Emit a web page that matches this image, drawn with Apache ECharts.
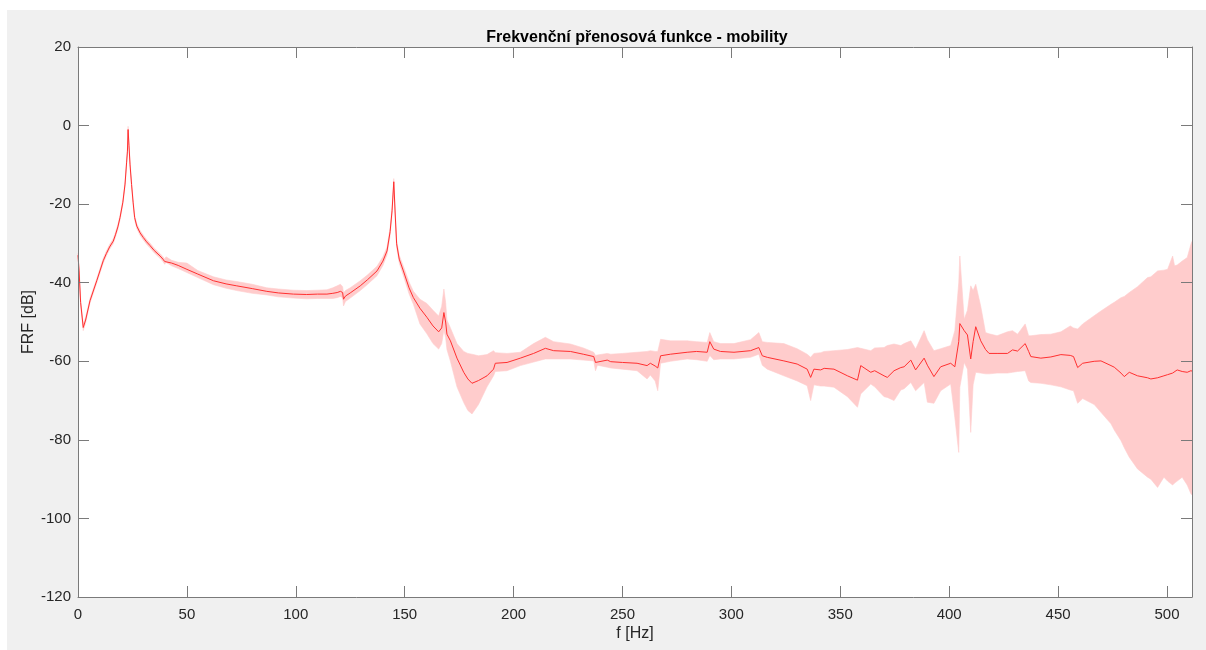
<!DOCTYPE html>
<html>
<head>
<meta charset="utf-8">
<script src="https://cdn.jsdelivr.net/npm/echarts@6/dist/echarts.min.js"></script>
<style>
  html, body { margin: 0; padding: 0; background: #ffffff; }
  #chart { width: 1206px; height: 650px; }
</style>
</head>
<body>
<div id="chart"></div>
<script>
// Frequency axis [Hz]
const freq = [
  0, 0.5, 1.2, 2.4, 3.5, 5.5, 8.6, 11.6, 13, 14.5, 16.2, 17.2, 18.3, 19.3, 20.6, 21.6, 22.3, 22.7, 23.0, 23.4, 23.9, 24.6,
  25.3, 26.0, 27.0, 28.5, 30, 31.5, 33, 35, 37.7, 39, 39.8, 40.4, 43, 46, 50, 55, 62.2, 68, 72.9, 80, 86.7, 92, 98.9,
  105, 110, 114.3, 117, 119, 120.5, 121.5, 121.9, 122.8, 125, 129.6, 133, 137.3, 140, 141.9, 143.3, 144.2, 145, 145.6, 146.3,
  147.5, 149.4, 152, 154, 157, 160.2, 163, 165.6, 167, 168, 168.8, 169.4, 171, 174, 177.1, 179, 180.9, 183.9, 187.8, 190.8,
  191.6, 197, 203.1, 209.2, 214.6, 218.4, 226.1, 232, 236.8, 237.6, 238.5, 243, 244.6, 250, 256.7, 261.3, 262.8, 265, 266.2, 267.5,
  272, 279.7, 284, 288.9, 290.1, 291.9, 295, 301.2, 308.8, 312.6, 314.2, 316.5, 324.1, 330.2, 334.8, 336.4, 337.9, 341, 342.6, 347.1,
  353.3, 357.9, 359.4, 364, 365.8, 370.1, 371.6, 374.7, 377.8, 379.3, 382.4, 384.6, 388.5, 390, 393, 396.1, 400.7, 402.6, 404.4, 404.9,
  406.9, 408.4, 409.9, 411, 412.2, 414.5, 416.7, 418.3, 422, 426.8, 429.1, 431.4, 434.9, 436.5, 437.5, 442.1, 446.7, 451.3, 455.6, 457.1,
  459, 461.3, 466.6, 469.7, 474.3, 475.8, 478.9, 480.4, 482.7, 486.5, 491.1, 492.6, 495.7, 498.6, 500.3, 502.6, 503.5, 504.7, 507, 509.3,
  511, 511.5
];

// Mean mobility FRF [dB]
const meanDb = [
  -33, -37, -45, -51.4, -49.5, -44.6, -39.5, -34.4, -32.6, -30.9, -29.4, -27.8, -25.8, -23.4, -19.5, -14.9, -9.5, -6.5, -1, -5, -10, -15,
  -19.5, -23.4, -25.6, -27.3, -28.5, -29.6, -30.5, -31.8, -33.2, -34.0, -34.6, -34.1, -35, -35.6, -36.6, -37.8, -39.5, -40.3, -40.8, -41.5, -42.2, -42.6, -42.9,
  -43.0, -42.9, -42.9, -42.7, -42.5, -42.2, -42.5, -44.2, -43.4, -42.6, -40.8, -39.2, -37, -34.5, -31.9, -27, -21.7, -14.3, -22, -30.1,
  -34, -37, -41.3, -43.8, -46.5, -48.8, -51, -52.5, -51.5, -47.6, -50, -53.1, -54.8, -59.2, -62.8, -64.5, -65.6, -64.9, -63.7, -62,
  -60.5, -60.3, -59.2, -58, -56.7, -57.3, -57.5, -58.2, -58.8, -60.3, -59.9, -59.7, -60.1, -60.3, -60.5, -61.1, -60.5, -61.2, -61.7, -58.6,
  -58.2, -57.7, -57.5, -57.7, -55, -56.9, -57.5, -57.7, -57.3, -56.5, -58.6, -59, -59.9, -60.7, -62, -64.1, -62, -62.2, -61.8, -62,
  -63.7, -64.8, -61.1, -62.8, -62.4, -63.7, -64.1, -62.4, -61.6, -61.4, -59.7, -62.2, -59.2, -61, -63.9, -61.4, -60.5, -61.4, -55, -50.4,
  -52.2, -53.3, -59.4, -55, -51.2, -54.8, -57, -58, -58, -58, -57.1, -57.4, -55.5, -57.5, -58.8, -59.2, -58.9, -58.3, -58.5, -58.8,
  -61.6, -60.5, -60, -59.9, -61.1, -61.5, -63, -63.9, -62.8, -63.7, -64.2, -64.5, -64.2, -63.7, -63.4, -63, -62.6, -62.2, -62.6, -62.8,
  -62.4, -62.5
];

// Lower edge of the spread band [dB]
const lowerDb = [
  -34, -37.8, -45.8, -52.2, -50.2, -45.2, -40.1, -35, -33.2, -31.5, -30, -28.4, -26.4, -24, -20.1, -15.6, -10.2, -7.2, -1.8, -5.7, -10.7, -15.7,
  -20.1, -24, -26.2, -27.9, -29.1, -30.2, -31.1, -32.4, -33.8, -34.6, -35.3, -34.8, -35.7, -36.4, -37.4, -38.7, -40.5, -41.4, -42, -42.7, -43.1, -43.6, -43.9,
  -44.1, -44, -44, -44.0, -43.8, -43.5, -43.8, -45.9, -44.8, -43.9, -42, -40.4, -38.2, -35.6, -32.9, -28, -22.5, -15.2, -23, -31,
  -35, -38.2, -42.8, -45.5, -50.5, -53, -55.5, -56.9, -55.5, -52, -54, -57, -60, -66.5, -70.5, -72.5, -73.4, -71, -66.5, -63.7,
  -62.6, -62.4, -61.1, -60.2, -59.4, -59.4, -59.4, -59.7, -59.9, -62.4, -61, -61.5, -61.7, -62, -62.4, -64.5, -63.5, -65, -67.5, -60.5,
  -60, -59.4, -59.6, -60, -58.5, -59.6, -59.4, -59.4, -59, -58.2, -61, -62, -63.7, -65, -66.2, -70, -66, -66.3, -66.3, -66.6,
  -69, -71.7, -68.3, -65.8, -66.5, -69, -69.2, -70, -67.3, -67, -65.4, -67.5, -65.4, -70.4, -70.7, -67.5, -65.8, -74.3, -83.2, -66.6,
  -60.3, -62, -78.1, -66, -62.8, -63, -63.2, -63.2, -63, -63, -62.8, -62.6, -62.4, -65, -65.4, -65.6, -66, -66.5, -67.3, -67.5,
  -70.7, -69.5, -71, -73, -75.9, -77.5, -80.2, -82, -84.4, -87.4, -89.5, -90, -92.1, -89.5, -90.5, -91.5, -91, -90.5, -89.5, -91.5,
  -93.7, -94
];

// Upper edge of the spread band [dB]
const upperDb = [
  -32.5, -36.2, -44.3, -50.6, -48.8, -44, -39, -33.8, -32.0, -30.3, -28.8, -27.2, -25.2, -22.8, -18.9, -14.2, -8.8, -5.8, -0.2, -4.3, -9.3, -14.3,
  -18.9, -22.8, -25.0, -26.7, -27.9, -29.0, -29.9, -31.2, -32.6, -33.4, -34, -33.4, -34.3, -34.8, -35.0, -36.9, -38.5, -39.3, -39.7, -40.4, -41.3, -41.6, -41.9,
  -42.0, -41.9, -41.8, -41.3, -40.8, -40.4, -41, -42.6, -42, -41.3, -39.5, -38, -35.8, -33.4, -30.9, -26, -20.9, -13.5, -21, -29.2,
  -33, -35.8, -39.8, -42.2, -44.2, -45.3, -47, -48.5, -46, -41.6, -45, -49.5, -51.5, -55.5, -57.5, -58, -58.2, -58.6, -58.3, -57.3,
  -57.8, -58, -57.7, -55.5, -53.9, -55, -55.6, -56.6, -57.7, -58.5, -58.4, -58, -58.2, -58, -57.7, -57.5, -57.3, -57.5, -57.5, -54.4,
  -54.8, -54.8, -55, -55.2, -52.7, -55, -55.5, -55.5, -54.5, -52.7, -55, -55.2, -55.5, -56.8, -58.2, -59, -58, -57.8, -57.5, -57.3,
  -57, -56.5, -56.7, -57.3, -56.6, -56.5, -56, -55.6, -56, -55.5, -54.8, -56.9, -52.2, -54.5, -57.3, -56.8, -56, -52.2, -40, -33.2,
  -49.3, -47, -40.8, -42, -40.4, -46, -52.7, -53, -53.5, -52.5, -52.2, -53.1, -50.5, -53.5, -53.5, -53.2, -53.1, -52.5, -51, -51.5,
  -51.8, -50.5, -48.4, -47.2, -45.5, -45, -43.8, -43.5, -42.5, -41, -38.7, -38.5, -37, -36.8, -36.6, -33.2, -35.7, -35.5, -34.5, -33.6,
  -30.2, -29.5
];

// Axis tick values
const xTicks = [0, 50, 100, 150, 200, 250, 300, 350, 400, 450, 500];
const yTicks = [-120, -100, -80, -60, -40, -20, 0, 20];

const FONT = "'Liberation Sans', Arial, Helvetica, sans-serif";
const AXIS_COLOR = '#7a7a7a';
const TEXT_COLOR = '#262626';

const bandData = freq.map((f, i) => [f, lowerDb[i], upperDb[i]]);
const meanData = freq.map((f, i) => [f, meanDb[i]]);

const chart = echarts.init(document.getElementById('chart'), null, { renderer: 'canvas' });

function axisCommon(extra) {
  return Object.assign({
    type: 'value',
    axisLine: { show: true, onZero: false, lineStyle: { color: AXIS_COLOR, width: 1 } },
    axisTick: { show: true, inside: true, length: 11, lineStyle: { color: AXIS_COLOR, width: 1 } },
    splitLine: { show: false },
    z: 10
  }, extra);
}

const option = {
  animation: false,
  backgroundColor: 'transparent',
  graphic: [{
    type: 'rect',
    z: -100,
    silent: true,
    shape: { x: 7, y: 10, width: 1199, height: 640 },
    style: { fill: '#f0f0f0' }
  }],
  title: {
    text: 'Frekvenční přenosová funkce - mobility',
    left: 632,
    textAlign: 'center',
    top: 25,
    textStyle: { fontFamily: FONT, fontSize: 16, fontWeight: 'bold', color: '#000000' }
  },
  grid: {
    left: 78, right: 14, top: 47, bottom: 53,
    show: true, backgroundColor: '#ffffff', borderWidth: 0
  },
  xAxis: [
    axisCommon({
      position: 'bottom',
      min: 0, max: 511.5, interval: 50,
      name: 'f [Hz]', nameLocation: 'middle', nameGap: 29, nameMoveOverlap: false,
      nameTextStyle: { fontFamily: FONT, fontSize: 16, color: TEXT_COLOR },
      axisLabel: {
        show: true, margin: 10, fontFamily: FONT, fontSize: 15, color: TEXT_COLOR,
        showMaxLabel: false,
        formatter: v => (xTicks.indexOf(v) >= 0 ? String(v) : '')
      }
    }),
    axisCommon({
      position: 'top',
      min: 0, max: 511.5, interval: 50,
      axisLabel: { show: false }
    })
  ],
  yAxis: [
    axisCommon({
      position: 'left',
      min: -120, max: 20, interval: 20,
      name: 'FRF [dB]', nameLocation: 'middle', nameGap: 41, nameMoveOverlap: false,
      nameTextStyle: { fontFamily: FONT, fontSize: 16, color: TEXT_COLOR },
      axisLabel: {
        show: true, margin: 7, fontFamily: FONT, fontSize: 15, color: TEXT_COLOR,
        formatter: v => (yTicks.indexOf(v) >= 0 ? String(v) : '')
      }
    }),
    axisCommon({
      position: 'right',
      min: -120, max: 20, interval: 20,
      axisLabel: { show: false }
    })
  ],
  series: [
    {
      // Spread band between the lower and upper envelope
      type: 'custom',
      xAxisIndex: 0, yAxisIndex: 0,
      data: bandData,
      encode: { x: 0, y: [1, 2] },
      silent: true,
      z: 2,
      renderItem: function (params, api) {
        if (params.dataIndex !== 0) return null;
        const pts = [];
        for (let i = 0; i < bandData.length; i++) {
          pts.push(api.coord([bandData[i][0], bandData[i][2]]));
        }
        for (let i = bandData.length - 1; i >= 0; i--) {
          pts.push(api.coord([bandData[i][0], bandData[i][1]]));
        }
        return {
          type: 'polygon',
          shape: { points: pts },
          style: { fill: '#ffcccc', stroke: '#ffcccc', lineWidth: 0.6 }
        };
      }
    },
    {
      // Mean FRF curve
      type: 'line',
      xAxisIndex: 0, yAxisIndex: 0,
      data: meanData,
      showSymbol: false,
      silent: true,
      z: 3,
      lineStyle: { color: '#ff3030', width: 1 }
    }
  ]
};

chart.setOption(option);
</script>
</body>
</html>
